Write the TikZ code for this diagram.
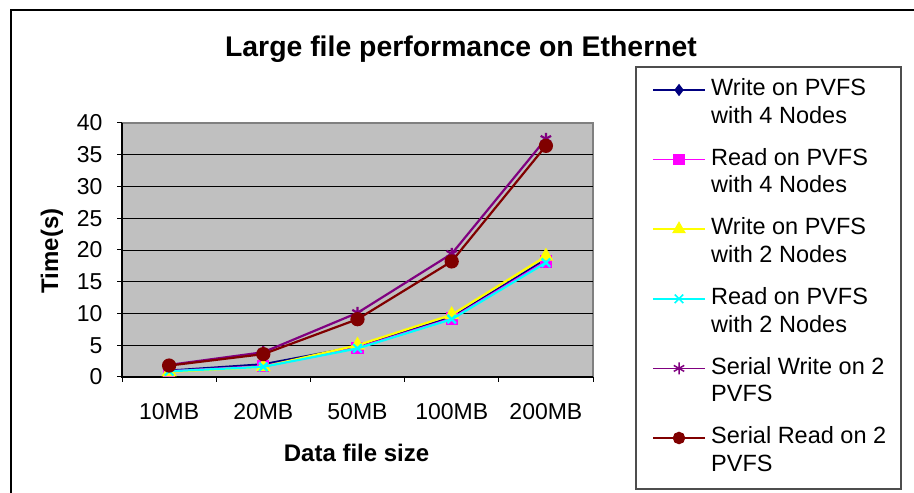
\documentclass[tikz,border=0pt]{standalone}
\usepackage{fontspec}
\setmainfont{Liberation Sans}
\usetikzlibrary{plotmarks,positioning}
\definecolor{plotgrey}{RGB}{192,192,192}
\definecolor{frame}{RGB}{128,128,128}
\definecolor{wfour}{RGB}{0,0,128}
\definecolor{rfour}{RGB}{255,0,255}
\definecolor{wtwo}{RGB}{255,255,0}
\definecolor{rtwo}{RGB}{0,255,255}
\definecolor{swrite}{RGB}{128,0,128}
\definecolor{sread}{RGB}{128,0,0}
\begin{document}
\begin{tikzpicture}[x=1pt,y=1pt,
  ticklbl/.style={font=\fontsize{23}{27}\selectfont,inner sep=0pt},
  axtitle/.style={font=\fontsize{24}{28}\selectfont\bfseries,inner sep=0pt},
  legtext/.style={font=\fontsize{23.5}{27.6}\selectfont,align=left,inner sep=0pt,anchor=base west},
  series/.style={line width=2.2pt,mark size=#1,mark options={solid}},
  legline/.style={line width=1.5pt,mark size=#1,mark options={solid}}]
  \useasboundingbox (0,0) rectangle (914,493);
  \fill[white] (0,0) rectangle (914,493);

  % chart frame
  \draw[line width=1.5pt] (11,0) -- (11,483) -- (914,483);
  \node[font=\fontsize{28.4}{32}\selectfont\bfseries,inner sep=0pt,anchor=base]
    (title) at (461,436) {Large file performance on Ethernet};

  \begin{scope}[shift={(169.1,116)},x=94.2pt,y=6.35pt]
    \fill[plotgrey] (-0.5,0) rectangle (4.5,40);
    \draw[frame,line width=1.5pt] (-0.5,40) -- (4.5,40) -- (4.5,0);
    \draw[line width=0.8pt] (-0.5,5) -- (4.5,5);
    \draw[line width=0.8pt] (-0.5,10) -- (4.5,10);
    \draw[line width=0.8pt] (-0.5,15) -- (4.5,15);
    \draw[line width=0.8pt] (-0.5,20) -- (4.5,20);
    \draw[line width=0.8pt] (-0.5,25) -- (4.5,25);
    \draw[line width=0.8pt] (-0.5,30) -- (4.5,30);
    \draw[line width=0.8pt] (-0.5,35) -- (4.5,35);
    \draw[line width=1.2pt] (-0.5,40) -- (-0.5,0) -- (4.5,0);

    % y axis
    \foreach \v in {0,5,...,40}
      \draw[line width=1pt] (-0.5,\v) -- ++(-5pt,0)
        node[ticklbl,anchor=east,xshift=-14pt] {\v};
    \node[axtitle,rotate=90] (ytitle) at (-1.245,19.84) {Time(s)};

    % x axis
    \foreach \c in {-0.5,0.5,1.5,2.5,3.5,4.5}
      \draw[line width=1pt] (\c,0) -- ++(0,-5pt);
    \node[ticklbl,anchor=base] (c1) at (0,-6.77) {10MB};
    \node[ticklbl,anchor=base] (c2) at (1,-6.77) {20MB};
    \node[ticklbl,anchor=base] (c3) at (2,-6.77) {50MB};
    \node[ticklbl,anchor=base] (c4) at (3,-6.77) {100MB};
    \node[ticklbl,anchor=base] (c5) at (4,-6.77) {200MB};
    \node[axtitle,anchor=base] (xtitle) at (1.99,-13.35) {Data file size};

    % data
    \draw[wfour,series=5.5pt,mark=diamond*] plot coordinates
      {(0,1.0) (1,2.0) (2,4.8) (3,9.4) (4,18.5)};
    \draw[rfour,series=5pt,mark=square*] plot coordinates
      {(0,0.9) (1,1.7) (2,4.6) (3,9.2) (4,18.2)};
    \draw[wtwo,series=6.5pt,mark=triangle*] plot coordinates
      {(0,0.8) (1,1.6) (2,5.0) (3,9.8) (4,19.0)};
    \draw[rtwo,series=6pt,mark=x] plot coordinates
      {(0,0.9) (1,1.6) (2,4.5) (3,9.1) (4,18.0)};
    \draw[swrite,series=6pt,mark=asterisk] plot coordinates
      {(0,1.9) (1,3.9) (2,10.1) (3,19.4) (4,37.5)};
    \draw[sread,series=6pt,mark=*] plot coordinates
      {(0,1.8) (1,3.6) (2,9.1) (3,18.2) (4,36.4)};
  \end{scope}

  % legend
  \draw[frame!60!black,line width=1.5pt] (636,4) rectangle (901,426);

  \draw[wfour,legline=5pt] (653,403) -- (705,403);
  \draw[wfour,legline=5pt,mark=diamond*] plot coordinates {(679,403)};
  \node[legtext] (t1) at (711,369.7) {Write on PVFS\\with 4 Nodes};

  \draw[rfour,legline=5pt] (653,333.4) -- (705,333.4);
  \draw[rfour,legline=5pt,mark=square*] plot coordinates {(679,333.4)};
  \node[legtext] (t2) at (711,300.1) {Read on PVFS\\with 4 Nodes};

  \draw[wtwo,legline=6.5pt] (653,263.8) -- (705,263.8);
  \draw[wtwo,legline=6.5pt,mark=triangle*] plot coordinates {(679,263.8)};
  \node[legtext] (t3) at (711,230.5) {Write on PVFS\\with 2 Nodes};

  \draw[rtwo,legline=6pt] (653,194.2) -- (705,194.2);
  \draw[rtwo,legline=6pt,mark=x] plot coordinates {(679,194.2)};
  \node[legtext] (t4) at (711,160.9) {Read on PVFS\\with 2 Nodes};

  \draw[swrite,legline=6pt] (653,124.6) -- (705,124.6);
  \draw[swrite,legline=6pt,mark=asterisk] plot coordinates {(679,124.6)};
  \node[legtext] (t5) at (711,91.3) {Serial Write on 2\\PVFS};

  \draw[sread,legline=5.5pt] (653,55) -- (705,55);
  \draw[sread,legline=5.5pt,mark=*] plot coordinates {(679,55)};
  \node[legtext] (t6) at (711,21.7) {Serial Read on 2\\PVFS};

\end{tikzpicture}
\end{document}
